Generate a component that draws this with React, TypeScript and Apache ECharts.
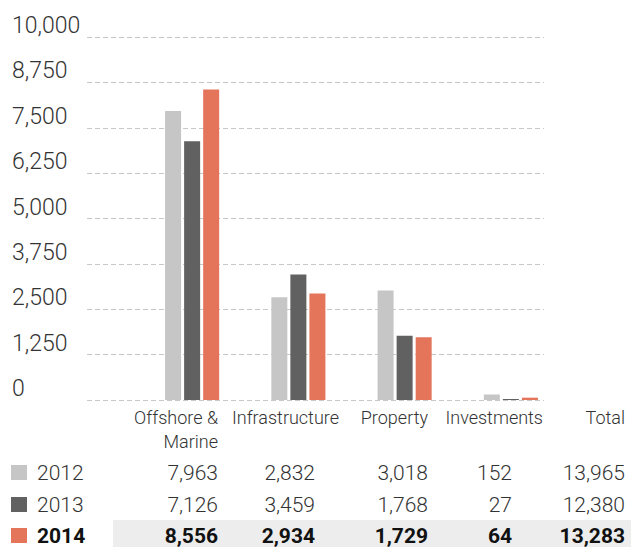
import React, { useEffect, useRef } from "react";
import * as echarts from "echarts";

const categories = ["Offshore &\nMarine", "Infrastructure", "Property", "Investments"];
const years = ["2012", "2013", "2014"];
const values2012 = [7963, 2832, 3018, 152];
const values2013 = [7126, 3459, 1768, 27];
const values2014 = [8556, 2934, 1729, 64];
const yMin = 0;
const yMax = 10000;
const yInterval = 1250;
const totalLabel = "Total";

const seriesValues = [values2012, values2013, values2014];
const colors = ["#c6c6c6", "#616161", "#e4745a"];
const FONT = "Roboto, 'Helvetica Neue', Arial, sans-serif";

const fmt = (v: number) => v.toLocaleString("en-US");

export default function App() {
  const ref = useRef<HTMLDivElement>(null);
  useEffect(() => {
    if (!ref.current) return;
    const chart = echarts.init(ref.current, undefined, { renderer: "svg" });

    // table layout
    const colRight = [218, 315, 428, 512, 625];
    const rowY = [473, 505, 536];
    const headerRight = [218, 339, 428, 543, 625];
    const headers = [...categories, totalLabel];

    const graphics: any[] = [];
    graphics.push({
      type: "rect",
      shape: { x: 113, y: 520, width: 518, height: 27 },
      style: { fill: "#ededed" },
      z: 0,
    });
    headers.forEach((h, i) => {
      const lines = h.split("\n");
      lines.forEach((ln, j) => {
        graphics.push({
          type: "text",
          x: headerRight[i],
          y: 417 + j * 24,
          style: {
            text: ln,
            fill: "#333",
            font: `300 18px ${FONT}`,
            align: "right",
            verticalAlign: "middle",
          },
          z: 2,
        });
      });
    });
    years.forEach((yr, r) => {
      const bold = r === years.length - 1;
      const font = bold ? `bold 21px ${FONT}` : `300 21px ${FONT}`;
      const fill = bold ? "#111" : "#333";
      graphics.push({
        type: "rect",
        shape: { x: 11, y: rowY[r] - 8, width: 16, height: 15 },
        style: { fill: colors[r] },
        z: 2,
      });
      graphics.push({
        type: "text",
        x: 37,
        y: rowY[r],
        style: { text: yr, fill, font, align: "left", verticalAlign: "middle" },
        z: 2,
      });
      const vals = seriesValues[r];
      const total = vals.reduce((a, b) => a + b, 0);
      [...vals, total].forEach((v, c) => {
        graphics.push({
          type: "text",
          x: colRight[c],
          y: rowY[r],
          style: { text: fmt(v), fill, font, align: "right", verticalAlign: "middle" },
          z: 2,
        });
      });
    });

    const yAxisBase = {
      type: "value",
      min: yMin,
      max: yMax,
      interval: yInterval,
    };

    chart.setOption({
      animation: false,
      grid: [
        { left: 87, right: 87, top: 37, bottom: 147 },
        { left: 139, right: 67, top: 37, bottom: 147 },
      ],
      xAxis: [
        { gridIndex: 0, type: "category", data: categories, show: false },
        { gridIndex: 1, type: "category", data: categories, show: false },
      ],
      yAxis: [
        {
          ...yAxisBase,
          gridIndex: 0,
          axisLine: { show: false },
          axisTick: { show: false },
          splitLine: { lineStyle: { color: "#c8c8c8", width: 1, type: [5, 3] } },
          axisLabel: {
            align: "left",
            verticalAlign: "bottom",
            margin: 75,
            color: "#333",
            fontSize: 23,
            fontFamily: FONT,
            fontWeight: 300,
            formatter: (v: number) => fmt(v),
          },
        },
        {
          ...yAxisBase,
          gridIndex: 1,
          show: false,
          splitLine: { show: false },
        },
      ],
      series: years.map((yr, i) => ({
        name: yr,
        type: "bar",
        xAxisIndex: 1,
        yAxisIndex: 1,
        data: seriesValues[i],
        barWidth: 16,
        barGap: "19%",
        itemStyle: { color: colors[i] },
        z: 3,
      })),
      graphic: graphics,
    });
    return () => chart.dispose();
  }, []);
  return (
    <div
      ref={ref}
      style={{ position: "fixed", left: 0, top: 0, width: 631, height: 547, background: "#fff" }}
    />
  );
}
